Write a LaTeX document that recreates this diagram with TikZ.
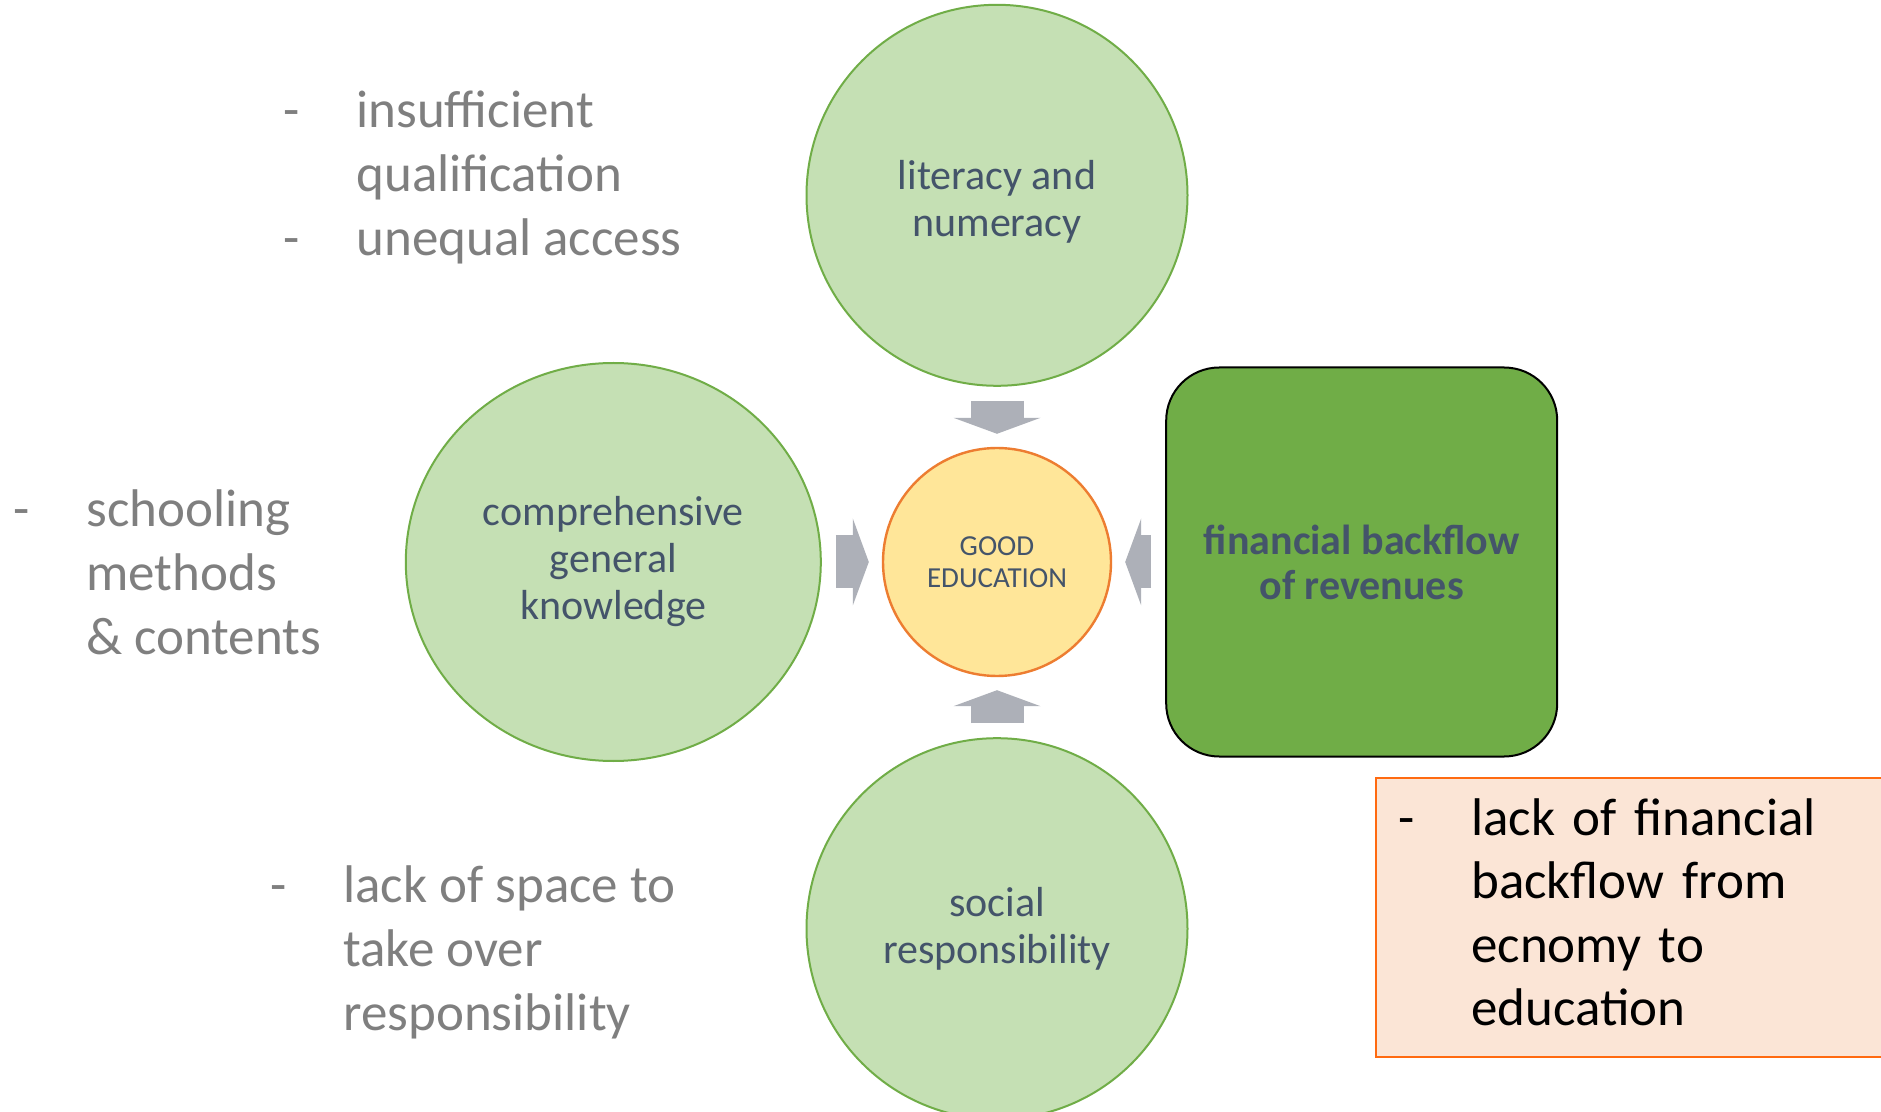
\documentclass[tikz,border=0pt]{standalone}
\usepackage{fontspec}
\setmainfont{Carlito}
\usepackage{xcolor}
\usetikzlibrary{arrows.meta,positioning,shapes.geometric}

\definecolor{petalfill}{HTML}{C5E0B4}
\definecolor{petaldraw}{HTML}{70AD47}
\definecolor{corefill}{HTML}{FFE699}
\definecolor{coredraw}{HTML}{ED7D31}
\definecolor{slate}{HTML}{44546A}
\definecolor{issuegray}{HTML}{7F7F7F}
\definecolor{flowgray}{HTML}{ADB0B8}
\definecolor{notefill}{HTML}{FBE5D6}
\definecolor{notedraw}{HTML}{FF6A10}

\newcommand{\bul}{\makebox[36.5pt][l]{-}}

\begin{document}
\begin{tikzpicture}[x=0.5pt, y=-0.5pt,
  node distance=30pt,
  petal/.style={circle, draw=petaldraw, fill=petalfill, line width=1pt,
                minimum size=190.5pt, inner sep=0pt, align=center, text=slate,
                font=\fontsize{21}{23.5}\selectfont},
  core/.style={circle, draw=coredraw, fill=corefill, line width=1.2pt,
               minimum size=114pt, align=center, text=slate,
               font=\fontsize{14.5}{16}\selectfont},
  money/.style={draw=black, fill=petaldraw, line width=1pt, rounded corners=26.5pt,
                minimum width=195.5pt, minimum height=194.5pt, align=center,
                text=slate, font=\fontsize{21}{22.5}\selectfont\bfseries},
  issue/.style={anchor=base west, inner sep=0pt, text=issuegray,
                font=\fontsize{26.5}{32}\selectfont},
  note/.style={draw=notedraw, fill=notefill, line width=1.2pt, anchor=north west,
               minimum height=139.5pt, text width=260pt, inner xsep=11pt,
               align=left, font=\fontsize{26.5}{31.75}\selectfont},
  push/.style={draw=flowgray, line width=26.5pt,
               -{Triangle[length=8pt, width=43.5pt, line width=0pt]},
               shorten <=7pt, shorten >=6.5pt}
]
  \path[use as bounding box, fill=white] (0,0) rectangle (1881,1112);

  \node[core] (good) at (997,562) {GOOD\\EDUCATION};
  \node[petal, above=of good] (lit)  {\rule{0pt}{21pt}literacy and\\numeracy};
  \node[petal, below=of good] (soc)  {social\\responsibility};
  \node[petal, ellipse, minimum width=207.5pt, minimum height=199pt,
        left=of good] (know) {comprehensive\\general\\knowledge};
  \node[money, right=26.5pt of good] (fin) {financial backflow\\of revenues};

  \draw[push] (lit)  -- (good);
  \draw[push] (soc)  -- (good);
  \draw[push] (know) -- (good);
  \draw[push] (fin)  -- (good);

  \node[issue] (qual) at (283,128) {\begin{tabular}[t]{@{}l@{}l@{}}
    \bul & insufficient\\ & qualification\\ \bul & unequal access\end{tabular}};
  \node[issue] (meth) at (13,527) {\begin{tabular}[t]{@{}l@{}l@{}}
    \bul & schooling\\ & methods\\ & \& contents\end{tabular}};
  \node[issue] (space) at (270,902) {\begin{tabular}[t]{@{}l@{}l@{}}
    \bul & lack of space to\\ & take over\\ & responsibility\end{tabular}};

  \node[note] (lack) at (1375,777) {\begin{tabular}{@{}l@{}l@{}}
    \bul & lack of financial\\ & backflow from\\ & ecnomy to\\ & education\end{tabular}};
\end{tikzpicture}
\end{document}
